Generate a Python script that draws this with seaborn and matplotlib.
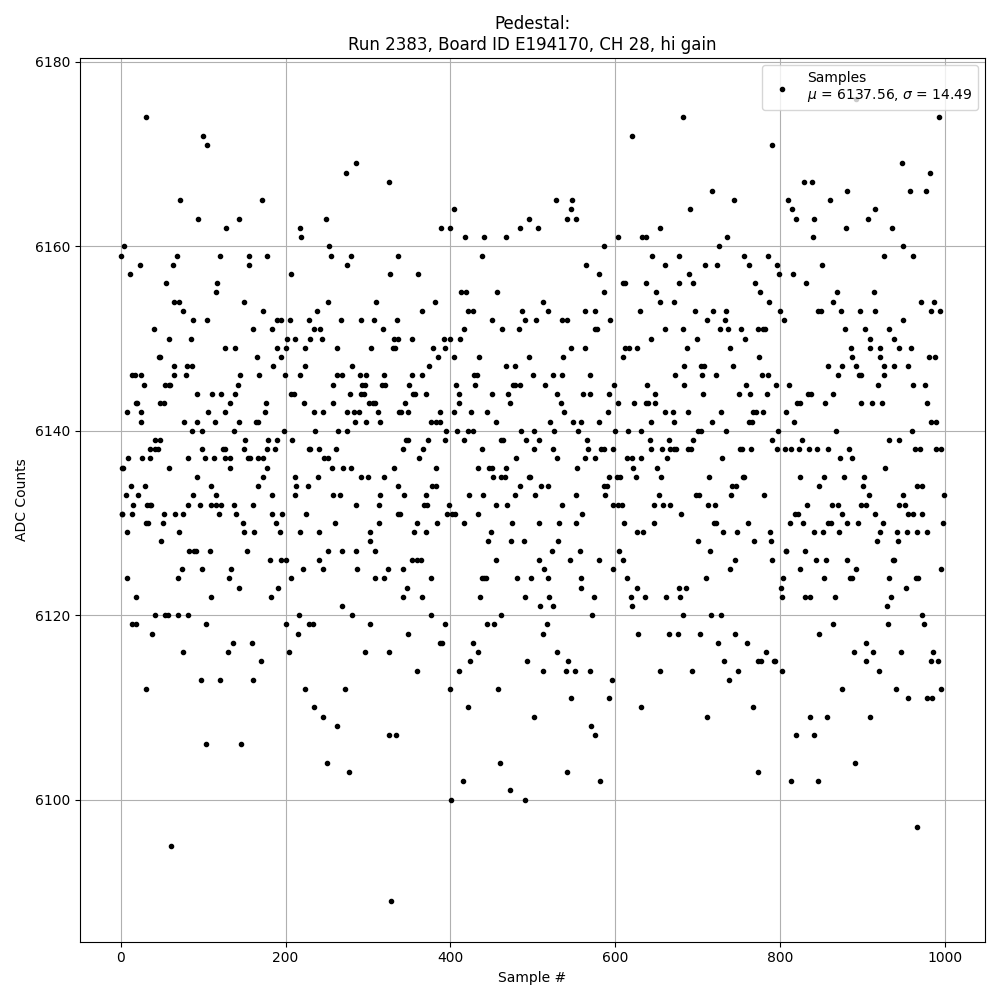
import pandas as pd
import matplotlib
matplotlib.use("Agg")
import matplotlib.pyplot as plt
import seaborn as sns

TITLE = "Pedestal:\nRun 2383, Board ID E194170, CH 28, hi gain"
LEGEND_LABEL = "Samples\n$\\mu$ = 6137.56, $\\sigma$ = 14.49"

# ADC level -> sample numbers
adc_levels = [
    6176, 6174, 6172, 6171, 6169, 6168, 6167, 6166, 6165, 6164, 6163, 6162,
    6161, 6160, 6159, 6158, 6157, 6156, 6155, 6154, 6153, 6152, 6151, 6150,
    6149, 6148, 6147, 6146, 6145, 6144, 6143, 6142, 6141, 6140, 6139, 6138,
    6137, 6136, 6135, 6134, 6133, 6132, 6131, 6130, 6129, 6128, 6127, 6126,
    6125, 6124, 6123, 6122, 6121, 6120, 6119, 6118, 6117, 6116, 6115, 6114,
    6113, 6112, 6111, 6110, 6109, 6108, 6107, 6106, 6104, 6103, 6102, 6101,
    6100, 6097, 6095, 6089,
]
samples_at_level = [
    [893],
    [31, 682, 993],
    [100, 621],
    [105, 791],
    [285, 948],
    [273, 982],
    [326, 829, 839],
    [718, 882, 958, 977],
    [72, 171, 528, 548, 744, 810, 861],
    [405, 546, 691, 815, 915],
    [94, 143, 249, 496, 542, 553, 819, 842, 907],
    [128, 217, 389, 400, 485, 506, 655, 880, 936],
    [219, 418, 441, 468, 603, 633, 638, 736, 840],
    [4, 253, 587, 726, 950],
    [0, 68, 120, 156, 177, 255, 279, 337, 439, 645, 677, 756, 785, 926, 962],
    [23, 63, 155, 275, 565, 661, 709, 724, 762, 796, 851],
    [11, 206, 327, 361, 581, 690, 799, 816],
    [55, 117, 609, 612, 638, 678, 694, 770, 832],
    [115, 413, 419, 457, 587, 650, 776, 869, 914],
    [65, 70, 149, 252, 310, 381, 513, 655, 671, 787, 865, 971, 987],
    [75, 172, 238, 365, 422, 427, 487, 519, 563, 575, 630, 697, 719, 735, 800,
     846, 850, 874, 897, 916, 983, 994],
    [88, 104, 189, 194, 205, 229, 267, 292, 307, 335, 450, 491, 504, 535, 542,
     594, 712, 733, 805, 949],
    [40, 161, 183, 234, 242, 318, 417, 463, 483, 576, 578, 660, 682, 727, 737,
     753, 773, 779, 782, 879, 903, 932],
    [58, 85, 202, 211, 230, 244, 332, 336, 354, 392, 399, 412, 644, 699, 758,
     910, 939],
    [127, 139, 189, 200, 223, 262, 304, 330, 333, 379, 394, 547, 564, 612, 617,
     626, 687, 739, 886, 910, 922, 944, 959],
    [46, 47, 165, 195, 385, 404, 435, 495, 537, 609, 775, 888, 921, 981, 988],
    [64, 80, 86, 185, 224, 281, 374, 467, 479, 684, 704, 708, 743, 858, 875,
     892, 927, 938, 955],
    [14, 17, 25, 64, 79, 145, 168, 199, 217, 262, 269, 290, 297, 319, 354, 366,
     429, 432, 500, 525, 536, 570, 673, 705, 722, 778, 785, 870, 896, 899, 927],
    [28, 53, 58, 60, 142, 257, 293, 296, 317, 321, 350, 407, 430, 476, 479,
     484, 515, 599, 639, 684, 759, 795, 811, 919, 961, 976],
    [92, 111, 122, 138, 207, 210, 278, 291, 295, 355, 357, 370, 411, 451, 470,
     530, 561, 569, 592, 649, 707, 750, 764, 784, 834, 838, 864],
    [18, 20, 47, 52, 132, 176, 222, 258, 301, 306, 309, 345, 411, 473, 534,
     604, 623, 637, 640, 649, 821, 824, 855, 898, 912, 924, 978],
    [7, 24, 106, 126, 175, 235, 245, 274, 283, 289, 312, 338, 340, 348, 387,
     405, 425, 445, 538, 591, 661, 670, 688, 728, 767, 771, 779, 807],
    [24, 77, 93, 114, 143, 164, 167, 284, 298, 314, 377, 382, 388, 456, 521,
     549, 558, 581, 644, 672, 717, 762, 766, 817, 983, 989],
    [86, 98, 137, 198, 236, 264, 274, 395, 408, 422, 428, 486, 501, 526, 555,
     600, 616, 632, 701, 704, 735, 798, 868, 960],
    [41, 48, 151, 179, 190, 208, 346, 348, 373, 393, 417, 461, 464, 492, 508,
     566, 642, 665, 695, 790, 827, 932, 944],
    [35, 42, 45, 99, 124, 126, 150, 177, 187, 228, 230, 241, 261, 343, 367,
     438, 502, 524, 567, 583, 586, 598, 643, 657, 667, 671, 674, 688, 692, 752,
     754, 765, 796, 806, 813, 823, 835, 845, 859, 884, 964, 970, 990, 996],
    [9, 26, 35, 81, 102, 113, 126, 132, 154, 157, 166, 173, 247, 251, 362, 480,
     530, 564, 576, 615, 621, 632, 663, 730, 873, 887],
    [1, 3, 59, 133, 178, 256, 270, 279, 331, 383, 434, 447, 451, 468, 554, 622,
     651, 928],
    [92, 172, 212, 239, 291, 300, 320, 452, 462, 466, 496, 497, 593, 602, 606,
     625, 656, 714, 755, 756, 825, 853, 878, 902],
    [12, 29, 109, 166, 213, 227, 336, 378, 383, 485, 510, 518, 586, 590, 742,
     747, 848, 901, 966, 972],
    [6, 21, 87, 115, 183, 211, 257, 266, 315, 344, 371, 423, 440, 478, 503,
     553, 588, 653, 698, 702, 741, 781, 908, 949, 999],
    [15, 32, 35, 37, 81, 96, 109, 116, 121, 137, 160, 285, 313, 368, 372, 398,
     456, 469, 536, 597, 604, 608, 647, 658, 667, 713, 721, 833, 863, 870, 898,
     904, 945, 952],
    [1, 2, 13, 52, 66, 76, 119, 140, 184, 196, 225, 337, 339, 396, 402, 406,
     434, 560, 680, 818, 822, 876, 915, 955, 961, 972],
    [30, 33, 51, 148, 188, 260, 313, 360, 384, 416, 475, 507, 532, 552, 611,
     647, 720, 722, 761, 812, 828, 859, 862, 881, 895, 925, 998],
    [7, 71, 149, 162, 193, 218, 240, 303, 356, 371, 449, 627, 634, 731, 748,
     788, 842, 852, 872, 921, 942, 954, 967, 979],
    [49, 302, 446, 474, 489, 531, 701, 768, 789, 918, 943],
    [83, 89, 91, 108, 153, 251, 268, 286, 308, 523, 557, 605, 715, 807, 808,
     830],
    [181, 194, 200, 240, 353, 360, 364, 455, 508, 545, 580, 610, 745, 790, 844,
     856, 881, 937, 938],
    [74, 98, 134, 221, 246, 287, 324, 343, 514, 598, 739, 824, 893, 995],
    [8, 69, 131, 206, 308, 319, 377, 438, 441, 443, 481, 498, 519, 559, 615,
     710, 804, 853, 885, 887, 933, 965, 968],
    [144, 191, 347, 559, 627, 678, 686, 801, 953],
    [18, 110, 182, 342, 366, 436, 490, 520, 574, 619, 636, 662, 679, 802, 830,
     836, 867, 935],
    [268, 509, 525, 620, 930],
    [41, 54, 57, 69, 82, 216, 280, 376, 462, 572, 683, 716, 728, 973],
    [13, 19, 103, 201, 228, 233, 302, 394, 445, 453, 517, 864, 931, 975],
    [38, 215, 349, 512, 628, 666, 676, 703, 745, 847],
    [136, 159, 388, 390, 428, 725, 760, 904],
    [75, 130, 204, 296, 325, 433, 529, 783, 890, 913, 947, 986],
    [170, 424, 493, 543, 732, 773, 777, 793, 794, 905, 984, 992],
    [359, 410, 513, 540, 551, 570, 654, 693, 749, 802, 920],
    [97, 120, 160, 596, 738],
    [30, 223, 272, 400, 458, 876, 941, 995],
    [547, 593, 956, 978, 985],
    [234, 421, 631, 767],
    [245, 502, 711, 836, 857, 909],
    [263, 571],
    [325, 334, 576, 819, 841],
    [103, 146],
    [250, 460, 891],
    [277, 541, 773],
    [415, 582, 813, 846],
    [472],
    [401, 490],
    [966],
    [61],
    [328],
]

rows = []
for level, samples in zip(adc_levels, samples_at_level):
    for s in samples:
        rows.append({"sample": s, "adc": level})
df = pd.DataFrame(rows)

fig, ax = plt.subplots(figsize=(10, 10), dpi=100)
sns.scatterplot(data=df, x="sample", y="adc", color="black", marker=".", s=36,
                linewidth=1, edgecolor="black", label=LEGEND_LABEL, zorder=2, ax=ax)
ax.set_xlim(-50, 1049)
ax.set_ylim(6084.6, 6180.4)
ax.set_yticks([6100, 6120, 6140, 6160, 6180])
ax.grid(True)
ax.set_title(TITLE)
ax.set_xlabel("Sample #")
ax.set_ylabel("ADC Counts")
ax.legend(loc="upper right")
plt.tight_layout()
plt.savefig("out.png", dpi=100)
